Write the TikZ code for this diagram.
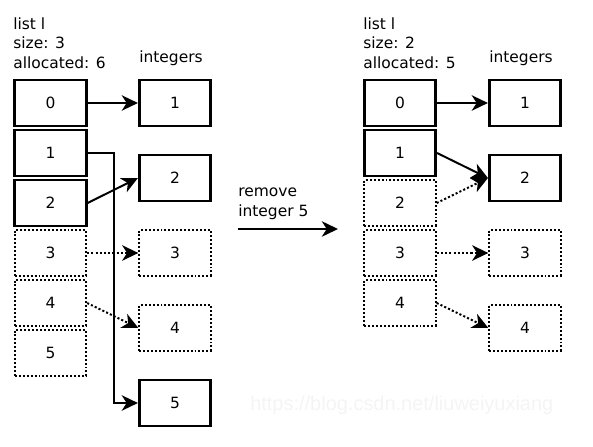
\documentclass[tikz,border=0pt]{standalone}
\usepackage{fontspec}
\setmainfont{DejaVu Sans}
\setsansfont{Liberation Sans}
\usepackage{tikz}
\usetikzlibrary{arrows.meta, calc, positioning}

\tikzset{
	cell/.style={draw, line width=2.1pt, minimum width=1.78cm, minimum height=1.15cm, inner sep=0pt},
	cellfree/.style={cell, line width=1.5pt, dash pattern=on 1.4pt off 1.4pt},
	ptr/.style={line width=1.4pt, -{Stealth[length=11.5pt, width=11pt, inset=3.5pt]}},
	ptrfree/.style={ptr, dash pattern=on 1.5pt off 1.5pt},
	caption/.style={align=left, anchor=north west, inner sep=0pt, font=\fontsize{11}{14}\selectfont}
}

\begin{document}
\begin{tikzpicture}[x=0.025cm, y=-0.025cm, font=\fontsize{11}{14}\selectfont]
	\useasboundingbox (0,0) rectangle (593,447);

	% before: list of six slots
	\node[caption] (headL) at (13,17) {list l\\size: 3\\allocated: 6};
	\node[anchor=base] (intsL) at (171,62) {integers};
	\foreach \i/\y in {0/103, 1/153, 2/203}
		\node[cell] (l\i) at (50.5,\y) {\i};
	\foreach \i/\y in {3/253, 4/303, 5/353}
		\node[cellfree] (l\i) at (50.5,\y) {\i};
	\foreach \i/\y in {1/103, 2/178, 5/403}
		\node[cell] (i\i) at (175,\y) {\i};
	\foreach \i/\y in {3/253, 4/328}
		\node[cellfree] (i\i) at (175,\y) {\i};

	\draw[ptr] (l0) -- (i1);
	\draw[ptr] (l1.east) -- ++(26,0) |- (i5.west);
	\draw[ptr] (l2.east) -- (i2.west);
	\draw[ptrfree] (l3) -- (i3);
	\draw[ptrfree] (l4.east) -- (i4.west);

	% the step in between
	\node[anchor=base west, align=left, inner sep=0pt] (step) at (238,216) {remove\\integer 5};
	\coordinate (stepA) at (238,229);
	\coordinate (stepB) at (338,229);
	\draw[ptr] (stepA) -- (stepB);

	% after: list of five slots
	\node[caption] (headR) at (363,17) {list l\\size: 2\\allocated: 5};
	\node[anchor=base] (intsR) at (521,62) {integers};
	\foreach \i/\y in {0/103, 1/153}
		\node[cell] (r\i) at (400,\y) {\i};
	\foreach \i/\y in {2/203, 3/253, 4/303}
		\node[cellfree] (r\i) at (400,\y) {\i};
	\foreach \i/\y in {1/103, 2/178}
		\node[cell] (j\i) at (525,\y) {\i};
	\foreach \i/\y in {3/253, 4/328}
		\node[cellfree] (j\i) at (525,\y) {\i};

	\draw[ptr] (r0) -- (j1);
	\draw[ptr] (r1.east) -- (j2.west);
	\draw[ptrfree] (r2.east) -- (j2.west);
	\draw[ptrfree] (r3) -- (j3);
	\draw[ptrfree] (r4.east) -- (j4.west);

	\node[anchor=base west, inner sep=0pt, text=gray!9, font=\fontsize{14.2}{17}\sffamily] (mark) at (250,410) {https://blog.csdn.net/liuweiyuxiang};
\end{tikzpicture}
\end{document}
